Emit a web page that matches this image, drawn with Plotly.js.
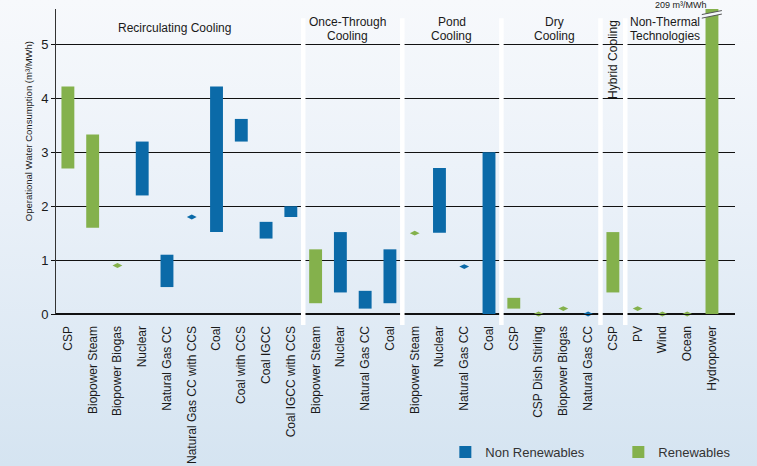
<!DOCTYPE html>
<html>
<head>
<meta charset="utf-8">
<script src="https://cdn.plot.ly/plotly-3.0.1.min.js"></script>
<style>
  html, body { margin: 0; padding: 0; }
  body { width: 757px; height: 466px; overflow: hidden;
         background: linear-gradient(to bottom, #f7f9fc 0%, #e9f0f8 45%, #d5e4f1 100%); }
  #chart { width: 757px; height: 466px; }
</style>
</head>
<body>
<div id="chart"></div>
<script>
// ---- data ----
const categories = ["CSP", "Biopower Steam", "Biopower Biogas", "Nuclear", "Natural Gas CC",
  "Natural Gas CC with CCS", "Coal", "Coal with CCS", "Coal IGCC", "Coal IGCC with CCS",
  "Biopower Steam", "Nuclear", "Natural Gas CC", "Coal",
  "Biopower Steam", "Nuclear", "Natural Gas CC", "Coal",
  "CSP", "CSP Dish Stirling", "Biopower Biogas", "Natural Gas CC",
  "CSP",
  "PV", "Wind", "Ocean", "Hydropower"];
const kind = ["R", "R", "R", "N", "N", "N", "N", "N", "N", "N",
  "R", "N", "N", "N",
  "R", "N", "N", "N",
  "R", "R", "R", "N",
  "R",
  "R", "R", "R", "R"];
const lowValues = [2.7, 1.6, 0.9, 2.2, 0.5, 1.8, 1.52, 3.2, 1.4, 1.8,
  0.2, 0.4, 0.1, 0.2,
  1.5, 1.51, 0.88, 0,
  0.1, 0, 0.1, 0,
  0.4,
  0.1, 0, 0, 0];
const highValues = [4.22, 3.33, 0.9, 3.2, 1.1, 1.8, 4.22, 3.62, 1.71, 2.0,
  1.2, 1.52, 0.43, 1.2,
  1.5, 2.71, 0.88, 3.0,
  0.3, 0, 0.1, 0,
  1.52,
  0.1, 0, 0, 209];
const groups = ["Recirculating Cooling", "Once-Through<br>Cooling", "Pond<br>Cooling",
  "Dry<br>Cooling", "Hybrid Cooling", "Non-Thermal<br>Technologies"];
const groupSizes = [10, 4, 4, 4, 1, 4];
const yTicks = [0, 1, 2, 3, 4, 5];
const hydroLabel = "209 m³/MWh";

const BLUE = "#0b6aa8", GREEN = "#84b14c";
const FONT = "Liberation Sans, Arial, sans-serif";
const idx = categories.map((_, i) => i);

function barTrace(k, name, color) {
  const sel = idx.filter(i => kind[i] === k && highValues[i] !== lowValues[i]);
  return {
    type: "bar", name: name,
    x: sel, base: sel.map(i => lowValues[i]),
    y: sel.map(i => highValues[i] - lowValues[i]),
    width: 0.52, marker: { color: color, line: { width: 0 } },
    hoverinfo: "skip"
  };
}
function pointTrace(k, color) {
  const sel = idx.filter(i => kind[i] === k && highValues[i] === lowValues[i]);
  return {
    type: "scatter", mode: "markers", showlegend: false,
    x: sel, y: sel.map(i => lowValues[i]),
    marker: { symbol: "diamond-wide", size: 7, color: color },
    cliponaxis: false, hoverinfo: "skip"
  };
}

const traces = [
  barTrace("N", "Non Renewables", BLUE),
  barTrace("R", "Renewables", GREEN),
  pointTrace("N", BLUE),
  pointTrace("R", GREEN)
];

// separators between groups
const shapes = [];
let start = 0;
groupSizes.forEach((n, g) => {
  start += n;
  if (g < groupSizes.length - 1) {
    shapes.push({ type: "line", xref: "x", yref: "paper", x0: start - 0.5, x1: start - 0.5,
      y0: -0.036, y1: 0.97, line: { color: "#ffffff", width: 4.5 }, layer: "above" });
  }
});
// break marks on hydropower bar
const hx = idx[idx.length - 1];
shapes.push({ type: "path", xref: "x", yref: "y",
  path: `M ${hx - 0.41},5.49 L ${hx + 0.4},5.566 L ${hx + 0.4},5.631 L ${hx - 0.41},5.557 Z`,
  fillcolor: "#f4f7fa", line: { width: 0 }, layer: "above" });
shapes.push({ type: "line", xref: "x", yref: "y", x0: hx - 0.41, x1: hx + 0.4, y0: 5.557, y1: 5.631,
  line: { color: "#555", width: 1 }, layer: "above" });
shapes.push({ type: "line", xref: "x", yref: "y", x0: hx - 0.41, x1: hx + 0.4, y0: 5.49, y1: 5.566,
  line: { color: "#555", width: 1 }, layer: "above" });

const groupX = [4.3, 11.3, 15.5, 19.65, 22, 24.1];
const annotations = [];
const labelFont = { family: FONT, size: 12, color: "#1a1a1a" };
groups.forEach((g, i) => {
  if (i === 4) {
    annotations.push({ text: g, xref: "x", yref: "paper", x: groupX[i], y: 0.836, showarrow: false,
      textangle: -90, xanchor: "center", yanchor: "middle", font: labelFont });
    return;
  }
  const lines = g.split("<br>");
  const ys = lines.length === 1 ? [0.9377] : [0.9574, 0.9115];
  lines.forEach((t, j) => {
    annotations.push({ text: t, xref: "x", yref: "paper", x: groupX[i], y: ys[j],
      showarrow: false, xanchor: "center", yanchor: "middle", font: labelFont });
  });
});
annotations.push({ text: hydroLabel, xref: "x", yref: "paper", x: 24.75, y: 1.013,
  xanchor: "center", yanchor: "middle",
  showarrow: false, font: { family: FONT, size: 9, color: "#1a1a1a" } });
annotations.push({ text: "Operational Water Consumption (m³/MWh)", xref: "paper", yref: "paper",
  x: -0.041, y: 0.6, showarrow: false, textangle: -90, xanchor: "center", yanchor: "middle",
  font: { family: FONT, size: 9.5, color: "#1a1a1a" } });

const layout = {
  width: 757, height: 466,
  margin: { l: 56, r: 22, t: 9, b: 152, autoexpand: false },
  paper_bgcolor: "rgba(0,0,0,0)", plot_bgcolor: "rgba(0,0,0,0)",
  font: { family: FONT, color: "#1a1a1a" },
  barmode: "overlay",
  xaxis: {
    range: [-0.48, 26.93], tickmode: "array", tickvals: idx, ticktext: categories,
    tickangle: -90, showgrid: false, zeroline: false, showline: true, linecolor: "#111", linewidth: 1.2,
    ticks: "", ticklabelstandoff: 6, tickfont: { family: FONT, size: 12, color: "#1a1a1a" },
    fixedrange: true, automargin: false
  },
  yaxis: {
    range: [0, 5.66], tickmode: "array", tickvals: yTicks, showgrid: true, gridcolor: "#111",
    gridwidth: 1.2, zeroline: true, zerolinecolor: "#111", zerolinewidth: 1.2,
    showline: true, linecolor: "#333", linewidth: 1, ticks: "outside", ticklen: 4, tickcolor: "#111",
    tickfont: { family: FONT, size: 13, color: "#1a1a1a" }, fixedrange: true, automargin: false
  },
  showlegend: true,
  legend: {
    orientation: "h", xref: "container", yref: "container", x: 0.5883, xanchor: "left",
    y: 0.03, yanchor: "middle",
    entrywidth: 128, entrywidthmode: "pixels", bgcolor: "rgba(0,0,0,0)",
    font: { family: FONT, size: 13, color: "#333" }, traceorder: "normal"
  },
  shapes: shapes,
  annotations: annotations
};

Plotly.newPlot("chart", traces, layout, { displayModeBar: false, staticPlot: true });
</script>
</body>
</html>
